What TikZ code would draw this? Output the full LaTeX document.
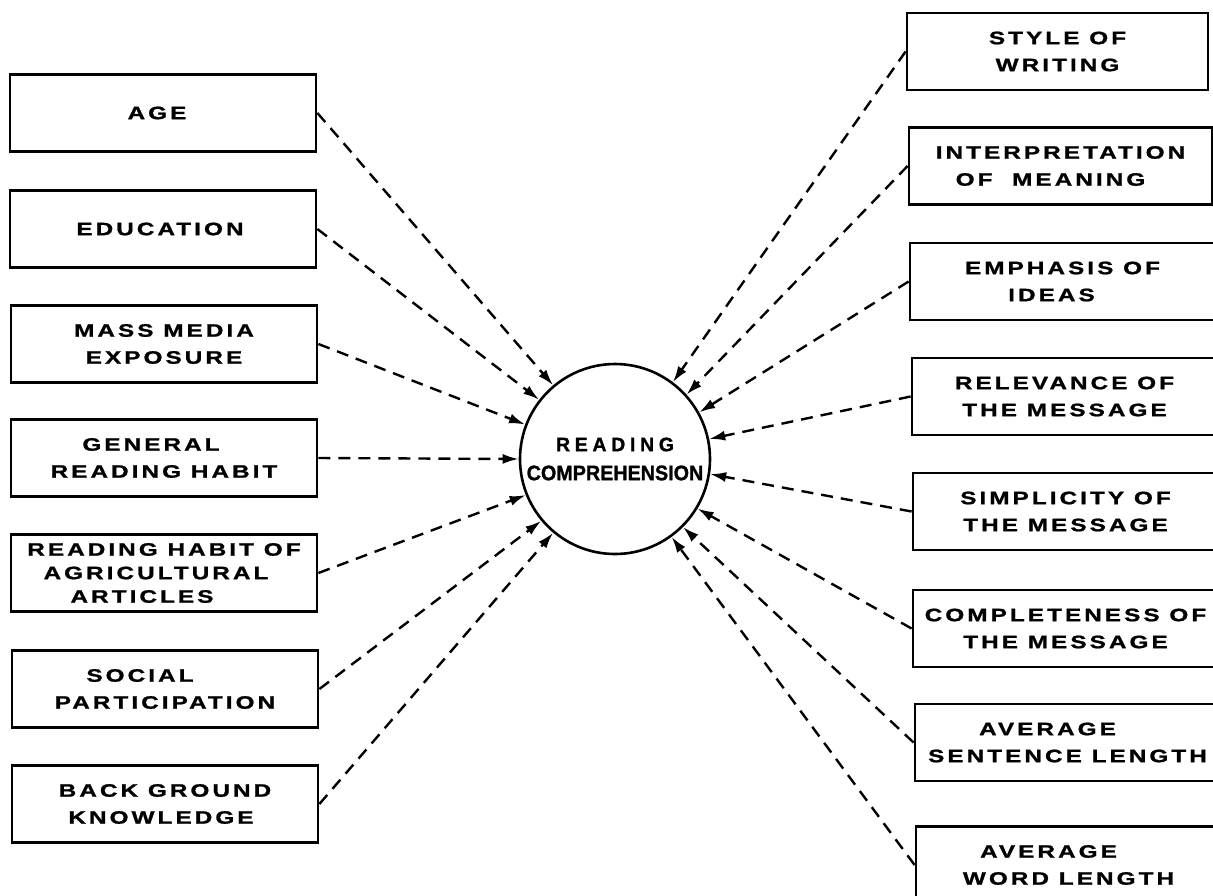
\documentclass[tikz,border=0pt]{standalone}
\usepackage{fontspec}
\setmainfont{Liberation Sans}
\newfontfamily\boxfont{Liberation Sans Bold}[FakeStretch=1.35,LetterSpace=17,FakeBold=1.2]
\newfontfamily\readfont{Liberation Sans Bold}[LetterSpace=24,FakeBold=1.2]
\newfontfamily\circfont{Liberation Sans Bold}[FakeStretch=0.94,FakeBold=1.2]
\usetikzlibrary{arrows.meta}
\newcommand{\sh}[1]{\rule{#1}{0pt}}
\begin{document}
\begin{tikzpicture}[x=1pt,y=-1pt,
  fbox/.style={draw, line width=2.8pt, minimum width=306pt, minimum height=77pt,
    inner sep=0pt, align=center, font={\boxfont\fontsize{18}{27}\selectfont}},
  tbox/.style={fbox, font={\boxfont\fontsize{18}{23.5}\selectfont}},
  conn/.style={dash pattern=on 12pt off 8pt, line width=2.4pt,
    -{Latex[length=16pt,width=10pt]}},
  hub/.style={draw, circle, line width=2.6pt, minimum size=190pt, inner sep=0pt,
    align=center, font={\circfont\fontsize{21}{30}\selectfont}}]
\useasboundingbox (0,0) rectangle (1213,895);
% central circle
\node[hub] (rc) at (615,459) {{\readfont\fontsize{19.5}{30}\selectfont READING}\\[-1pt]COMPREHENSION};
% left boxes
\node[fbox] (age) at (163,113) {AGE\sh{12pt}};
\node[fbox] (edu) at (163,229) {EDUCATION\sh{6pt}};
\node[fbox] (mme) at (164,344) {MASS MEDIA\\EXPOSURE};
\node[fbox] (grh) at (164,458) {GENERAL\sh{26pt}\\READING HABIT};
\node[tbox] (rha) at (164,573) {READING HABIT OF\\AGRICULTURAL\sh{16pt}\\ARTICLES\sh{44pt}};
\node[fbox] (soc) at (165,689) {SOCIAL\sh{50pt}\\PARTICIPATION};
\node[fbox] (bgk) at (165,804) {BACK GROUND\\KNOWLEDGE\sh{8pt}};
% right boxes
\node[fbox, minimum width=301pt] (sow) at (1057.5,51.5) {STYLE OF\\WRITING};
\node[fbox, minimum width=303pt] (iom) at (1060.5,166) {INTERPRETATION\\OF\ \ MEANING\sh{20pt}};
\node[fbox, minimum width=305pt] (eoi) at (1062.5,281.5) {EMPHASIS OF\\IDEAS\sh{22pt}};
\node[fbox, minimum width=305pt] (rel) at (1064.5,396.5) {RELEVANCE OF\\THE MESSAGE};
\node[fbox, minimum width=305pt] (sim) at (1065.5,511.5) {SIMPLICITY OF\\THE MESSAGE};
\node[fbox, minimum width=305pt] (com) at (1065.5,628.5) {COMPLETENESS OF\\THE MESSAGE};
\node[fbox, minimum width=305pt] (asl) at (1067.5,742.5) {AVERAGE\sh{40pt}\\SENTENCE LENGTH};
\node[fbox, minimum width=305pt] (awl) at (1068.5,865) {AVERAGE\sh{40pt}\\WORD LENGTH};
% connectors, left
\draw[conn] (age.east) -- (rc.130);
\draw[conn] (edu.east) -- (rc.142);
\draw[conn] (mme.east) -- (rc.159);
\draw[conn] (grh.east) -- (rc.180);
\draw[conn] (rha.east) -- (rc.202);
\draw[conn] (soc.east) -- (rc.220);
\draw[conn] (bgk.east) -- (rc.230);
% connectors, right
\draw[conn] (sow.west) -- (rc.53);
\draw[conn] (iom.west) -- (rc.42);
\draw[conn] (eoi.west) -- (rc.29);
\draw[conn] (rel.west) -- (rc.12);
\draw[conn] (sim.west) -- (rc.-9);
\draw[conn] (com.west) -- (rc.-31);
\draw[conn] (asl.west) -- (rc.-45);
\draw[conn] (awl.west) -- (rc.-54);
\end{tikzpicture}
\end{document}
